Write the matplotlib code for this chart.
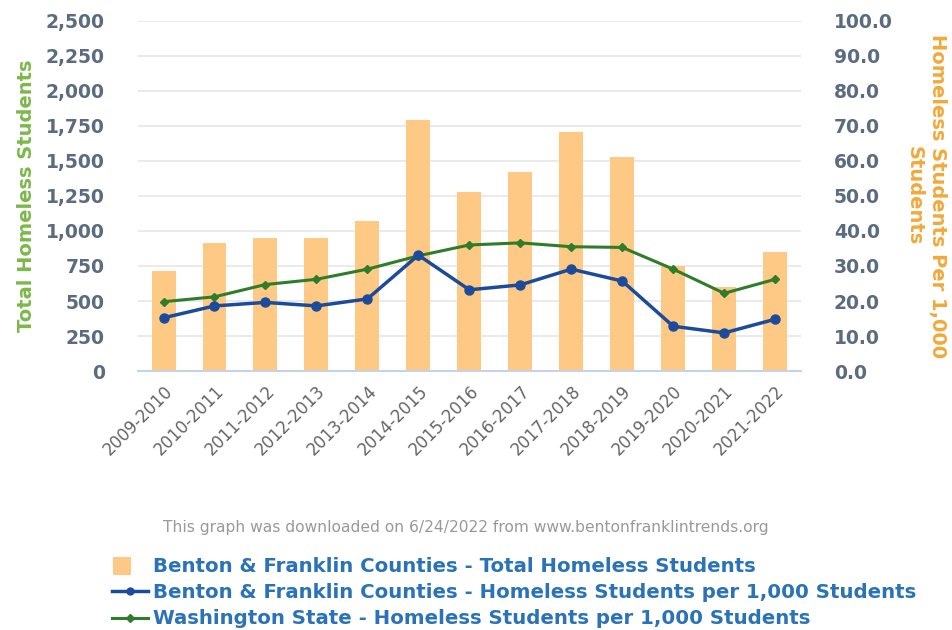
import numpy as np
import matplotlib.pyplot as plt
from matplotlib.lines import Line2D
from matplotlib.patches import Patch, Rectangle
from matplotlib.legend_handler import HandlerPatch
from matplotlib.ticker import FuncFormatter

years = ["2009-2010", "2010-2011", "2011-2012", "2012-2013", "2013-2014",
         "2014-2015", "2015-2016", "2016-2017", "2017-2018", "2018-2019",
         "2019-2020", "2020-2021", "2021-2022"]
total_homeless = [716, 912, 950, 950, 1074, 1791, 1281, 1418, 1703, 1530, 751, 603, 852]
bf_per_1000 = [15.2, 18.6, 19.6, 18.6, 20.6, 33.1, 23.2, 24.6, 29.1, 25.7, 12.8, 10.9, 14.8]
wa_per_1000 = [19.8, 21.2, 24.7, 26.2, 29.1, 32.9, 36.0, 36.6, 35.5, 35.3, 29.1, 22.2, 26.2]

bar_col = "#fec984"
blue = "#1c4b9c"
green = "#2f7d2a"
tick_col = "#5b6b80"

fig = plt.figure(figsize=(9.52, 6.3), dpi=100)
ax = fig.add_axes([0.145, 0.411, 0.696, 0.556])
x = np.arange(len(years))

ax.bar(x, total_homeless, width=0.47, color=bar_col, zorder=2)
ax.set_xlim(-0.5, len(years) - 0.5)
ax.set_ylim(0, 2500)
ax.set_yticks(np.arange(0, 2501, 250))
ax.yaxis.set_major_formatter(FuncFormatter(lambda v, p: f"{int(v):,}"))
ax.grid(axis="y", color="#e6e6e6", linewidth=1.2, zorder=0)
ax.set_axisbelow(True)

ax2 = ax.twinx()
ax2.plot(x, wa_per_1000, color=green, linewidth=2.2, marker="D", markersize=4.5, zorder=3)
ax2.plot(x, bf_per_1000, color=blue, linewidth=2.5, marker="o", markersize=6.5, zorder=4)
ax2.set_ylim(0, 100)
ax2.set_yticks(np.arange(0, 101, 10))
ax2.yaxis.set_major_formatter(FuncFormatter(lambda v, p: f"{v:.1f}"))

for a in (ax, ax2):
    for s in a.spines.values():
        s.set_visible(False)
    a.tick_params(axis="y", length=0, labelsize=13.5, labelcolor=tick_col)
    for lbl in a.get_yticklabels():
        lbl.set_fontweight("bold")
ax.spines["bottom"].set_visible(True)
ax.spines["bottom"].set_color("#c6d3e6")
ax.spines["bottom"].set_linewidth(1.5)
ax.tick_params(axis="y", pad=24)
ax2.tick_params(axis="y", pad=24)

ax.set_xticks(x)
ax.set_xticklabels(years, rotation=45, ha="right", rotation_mode="anchor",
                   fontsize=12, color="#666666")
ax.tick_params(axis="x", length=0, pad=8)

ax.set_ylabel("Total Homeless Students", color="#7cb84a", fontsize=14,
              fontweight="bold", labelpad=7)
ax2.set_ylabel("Homeless Students Per 1,000\nStudents", color="#f2a93b", fontsize=14,
               fontweight="bold", rotation=-90, labelpad=39, linespacing=1.3)

fig.text(0.489, 0.163, "This graph was downloaded on 6/24/2022 from www.bentonfranklintrends.org",
         ha="center", va="center", fontsize=11.2, color="#999999", family="Liberation Sans Narrow")


def square_handle(legend, orig_handle, xdescent, ydescent, width, height, fontsize):
    return Rectangle((-xdescent + 1, -ydescent - 2), height + 3, height + 3)


handles = [
    Patch(facecolor=bar_col, edgecolor="none"),
    Line2D([0], [0], color=blue, linewidth=2.5, marker="o", markersize=5),
    Line2D([0], [0], color=green, linewidth=2.2, marker="D", markersize=4),
]
labels = [
    "Benton & Franklin Counties - Total Homeless Students",
    "Benton & Franklin Counties - Homeless Students per 1,000 Students",
    "Washington State - Homeless Students per 1,000 Students",
]
leg = fig.legend(handles, labels, loc="upper left", bbox_to_anchor=(0.109, 0.128),
                 frameon=False, fontsize=14.2, handlelength=1.85, handletextpad=0.25,
                 labelspacing=0.36, borderaxespad=0,
                 handler_map={Patch: HandlerPatch(patch_func=square_handle)})
for t in leg.get_texts():
    t.set_color("#2b73b8")
    t.set_fontweight("bold")

fig.savefig("out.png", dpi=100)
